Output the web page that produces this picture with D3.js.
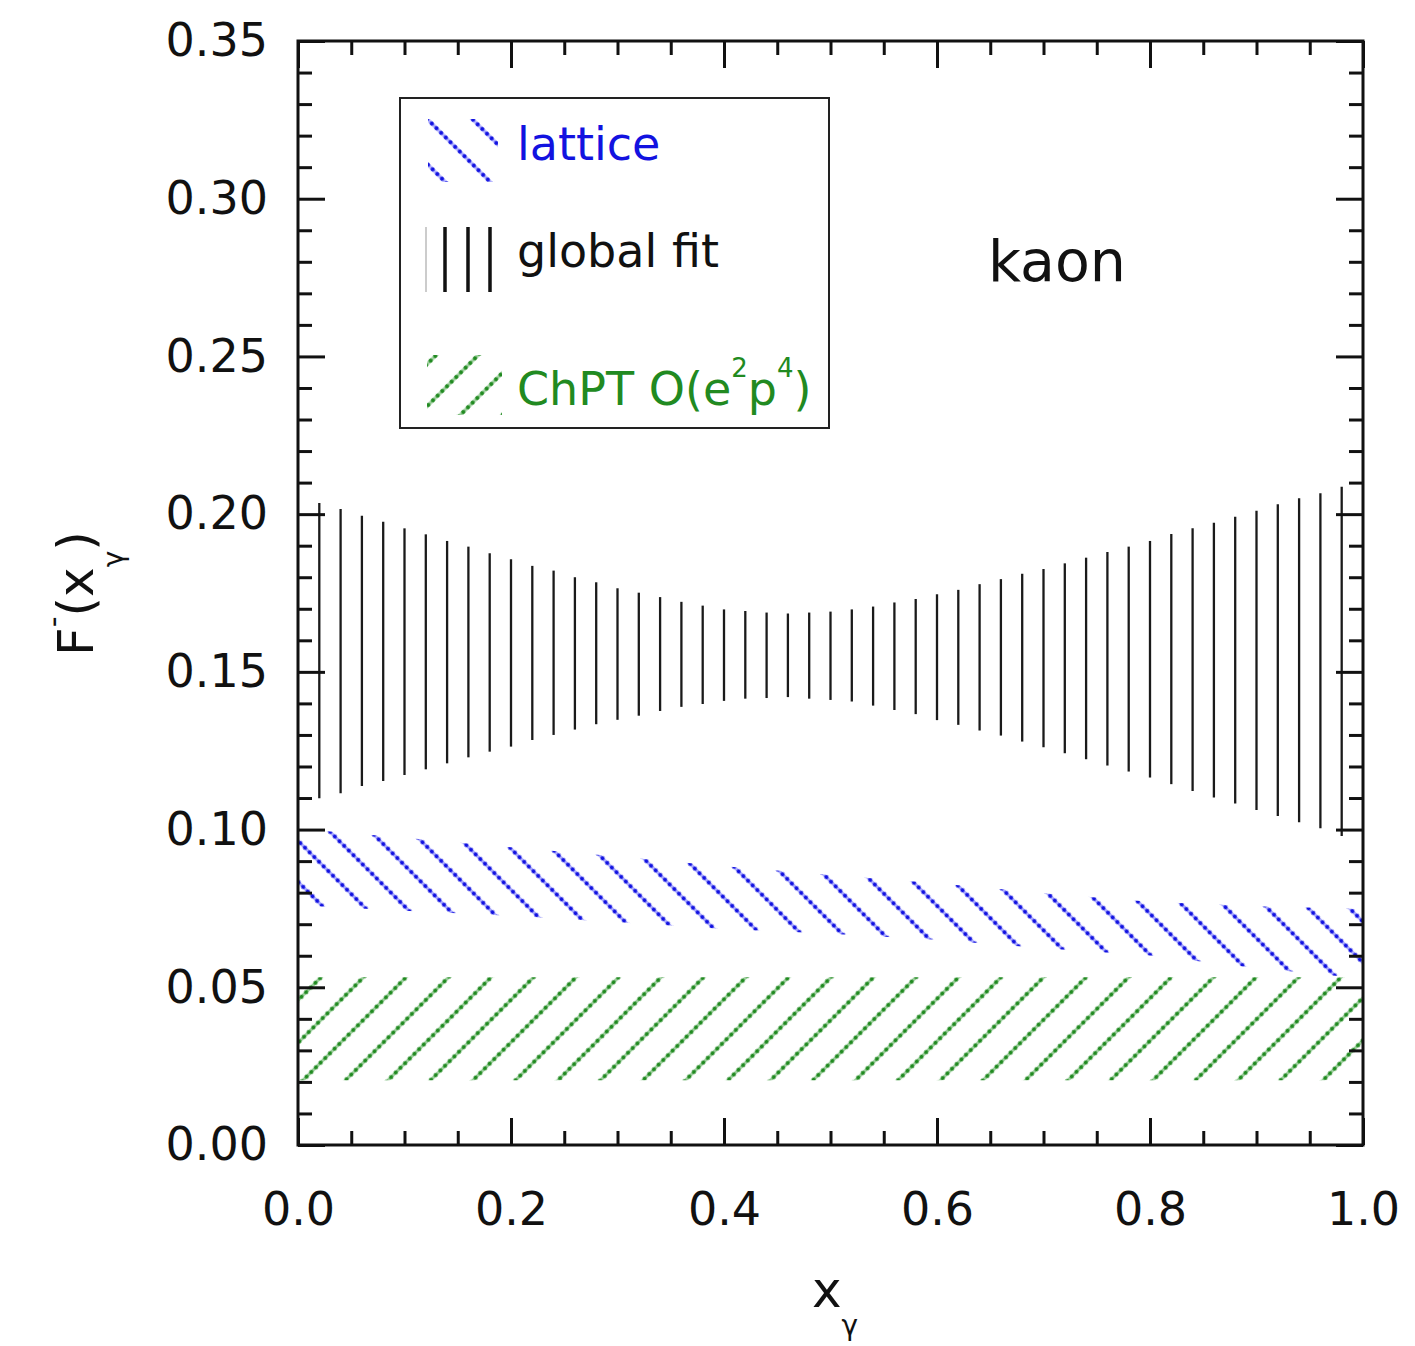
<!DOCTYPE html>
<html>
<head>
<meta charset="utf-8">
<script src="https://cdn.jsdelivr.net/npm/d3@7/dist/d3.min.js"></script>
<style>
  html, body { margin: 0; padding: 0; background: #fff; }
  svg { display: block; }
  text { font-family: "DejaVu Sans", "Noto Sans", sans-serif; }
</style>
</head>
<body>
<script>
// ---- data ---------------------------------------------------------------
// global fit: error band sampled at fixed x_gamma
const fitX = [0.02, 0.04, 0.06, 0.08, 0.10, 0.12, 0.14, 0.16, 0.18, 0.20,
              0.22, 0.24, 0.26, 0.28, 0.30, 0.32, 0.34, 0.36, 0.38, 0.40,
              0.42, 0.44, 0.46, 0.48, 0.50, 0.52, 0.54, 0.56, 0.58, 0.60,
              0.62, 0.64, 0.66, 0.68, 0.70, 0.72, 0.74, 0.76, 0.78, 0.80,
              0.82, 0.84, 0.86, 0.88, 0.90, 0.92, 0.94, 0.96, 0.98];
const fitHigh = [0.2035, 0.2016, 0.1995, 0.1976, 0.1955, 0.1936, 0.1915, 0.1897, 0.1876, 0.1857,
                 0.1836, 0.1821, 0.1800, 0.1784, 0.1765, 0.1751, 0.1737, 0.1722, 0.1710, 0.1698,
                 0.1693, 0.1688, 0.1685, 0.1688, 0.1691, 0.1698, 0.1707, 0.1720, 0.1731, 0.1746,
                 0.1760, 0.1778, 0.1794, 0.1811, 0.1826, 0.1844, 0.1862, 0.1880, 0.1897, 0.1915,
                 0.1937, 0.1955, 0.1973, 0.1992, 0.2011, 0.2031, 0.2050, 0.2066, 0.2087];
const fitLow = [0.1099, 0.1115, 0.1138, 0.1154, 0.1173, 0.1191, 0.1210, 0.1229, 0.1247, 0.1263,
                0.1284, 0.1300, 0.1317, 0.1334, 0.1348, 0.1361, 0.1376, 0.1389, 0.1398, 0.1408,
                0.1415, 0.1417, 0.1420, 0.1415, 0.1411, 0.1406, 0.1393, 0.1379, 0.1366, 0.1347,
                0.1332, 0.1314, 0.1298, 0.1279, 0.1261, 0.1242, 0.1223, 0.1203, 0.1184, 0.1165,
                0.1144, 0.1122, 0.1102, 0.1083, 0.1062, 0.1043, 0.1023, 0.1004, 0.0980];

// lattice band
const latticeX    = [0.0, 0.1, 0.2, 0.3, 0.4, 0.5, 0.6, 0.7, 0.8, 0.9, 1.0];
const latticeHigh = [0.1003, 0.0974, 0.0944, 0.0915, 0.0884, 0.0856, 0.0830, 0.0798, 0.0771, 0.0757, 0.0748];
const latticeLow  = [0.0760, 0.0743, 0.0727, 0.0706, 0.0685, 0.0670, 0.0651, 0.0624, 0.0601, 0.0561, 0.0528];

// ChPT O(e^2 p^4) band
const chptX    = [0.0, 1.0];
const chptHigh = [0.0532, 0.0532];
const chptLow  = [0.0205, 0.0205];

// axis ticks
const xTicks = [0.0, 0.2, 0.4, 0.6, 0.8, 1.0];
const xTickLabels = ["0.0", "0.2", "0.4", "0.6", "0.8", "1.0"];
const yTicks = [0.00, 0.05, 0.10, 0.15, 0.20, 0.25, 0.30, 0.35];
const yTickLabels = ["0.00", "0.05", "0.10", "0.15", "0.20", "0.25", "0.30", "0.35"];

// ---- layout -------------------------------------------------------------
const W = 1415, H = 1346;
const plot = { left: 298, right: 1363, top: 41, bottom: 1145 };
const BLUE = "#1212e0", GREEN = "#218a21", INK = "#111";

const x = d3.scaleLinear().domain([0, 1]).range([plot.left, plot.right]);
const y = d3.scaleLinear().domain([0, 0.35]).range([plot.bottom, plot.top]);

const svg = d3.select("body").append("svg")
  .attr("width", W).attr("height", H).attr("viewBox", `0 0 ${W} ${H}`);
const defs = svg.append("defs");

// dotted 45-degree hatch; c0 fixes the phase of the lines (x -/+ y), spacing is horizontal
function hatch(id, dir, spacing, c0, dot, halo) {
  const w = spacing / Math.SQRT2, h = 6.6;
  let off = (c0 / Math.SQRT2 - w / 2) % w;
  if (off < 0) off += w;
  const p = defs.append("pattern").attr("id", id)
    .attr("patternUnits", "userSpaceOnUse")
    .attr("x", off).attr("y", 0).attr("width", w).attr("height", h)
    .attr("patternTransform", `rotate(${dir === "down" ? -45 : 45})`);
  p.append("rect").attr("x", w / 2 - 1.6).attr("y", 0)
    .attr("width", 3.2).attr("height", h).attr("fill", halo);
  p.append("circle").attr("cx", w / 2).attr("cy", h / 2).attr("r", 2.1).attr("fill", dot);
}
hatch("hatch-lattice", "down", 41, -501.7, BLUE, "rgba(90,90,255,0.5)");
hatch("hatch-chpt", "up", 42.5, 1383.3, GREEN, "rgba(60,160,60,0.5)");
hatch("hatch-lattice-key", "down", 45, 308.3, BLUE, "rgba(90,90,255,0.5)");
hatch("hatch-chpt-key", "up", 42, 833.3, GREEN, "rgba(60,160,60,0.5)");

defs.append("clipPath").attr("id", "plot-clip").append("rect")
  .attr("x", plot.left).attr("y", plot.top)
  .attr("width", plot.right - plot.left).attr("height", plot.bottom - plot.top);

// ---- bands --------------------------------------------------------------
const band = d3.area()
  .x(d => x(d.x)).y0(d => y(d.lo)).y1(d => y(d.hi));

const marks = svg.append("g").attr("clip-path", "url(#plot-clip)");

marks.append("path")
  .datum(chptX.map((v, i) => ({ x: v, lo: chptLow[i], hi: chptHigh[i] })))
  .attr("d", band).attr("fill", "url(#hatch-chpt)");

marks.append("path")
  .datum(latticeX.map((v, i) => ({ x: v, lo: latticeLow[i], hi: latticeHigh[i] })))
  .attr("d", band).attr("fill", "url(#hatch-lattice)");

marks.append("g").selectAll("line")
  .data(fitX.map((v, i) => ({ x: v, lo: fitLow[i], hi: fitHigh[i] })))
  .join("line")
  .attr("x1", d => x(d.x)).attr("x2", d => x(d.x))
  .attr("y1", d => y(d.lo)).attr("y2", d => y(d.hi))
  .attr("stroke", "#1a1a1a").attr("stroke-width", 2.3);

// ---- axes ---------------------------------------------------------------
const xMinor = x.ticks(20).filter(v => !xTicks.some(t => Math.abs(t - v) < 1e-9));
const yMinor = y.ticks(35).filter(v => !yTicks.some(t => Math.abs(t - v) < 1e-9));

function styleAxis(g, fontSize) {
  g.select(".domain").remove();
  g.selectAll(".tick line").attr("stroke", INK).attr("stroke-width", 3);
  g.selectAll("text").attr("fill", INK).attr("font-size", fontSize)
    .attr("font-family", '"DejaVu Sans", sans-serif');
}
const MAJ = 27, MIN = 14;

// bottom
svg.append("g").attr("transform", `translate(0,${plot.bottom})`)
  .call(d3.axisBottom(x).tickValues(xTicks).tickSize(-MAJ).tickPadding(47)
    .tickFormat((d, i) => xTickLabels[i]))
  .call(g => styleAxis(g, 46));
svg.append("g").attr("transform", `translate(0,${plot.bottom})`)
  .call(d3.axisBottom(x).tickValues(xMinor).tickSize(-MIN).tickFormat(""))
  .call(g => styleAxis(g, 0));
// top
svg.append("g").attr("transform", `translate(0,${plot.top})`)
  .call(d3.axisTop(x).tickValues(xTicks).tickSize(-MAJ).tickFormat(""))
  .call(g => styleAxis(g, 0));
svg.append("g").attr("transform", `translate(0,${plot.top})`)
  .call(d3.axisTop(x).tickValues(xMinor).tickSize(-MIN).tickFormat(""))
  .call(g => styleAxis(g, 0));
// left
svg.append("g").attr("transform", `translate(${plot.left},0)`)
  .call(d3.axisLeft(y).tickValues(yTicks).tickSize(-MAJ).tickPadding(30)
    .tickFormat((d, i) => yTickLabels[i]))
  .call(g => styleAxis(g, 46));
svg.append("g").attr("transform", `translate(${plot.left},0)`)
  .call(d3.axisLeft(y).tickValues(yMinor).tickSize(-MIN).tickFormat(""))
  .call(g => styleAxis(g, 0));
// right
svg.append("g").attr("transform", `translate(${plot.right},0)`)
  .call(d3.axisRight(y).tickValues(yTicks).tickSize(-MAJ).tickFormat(""))
  .call(g => styleAxis(g, 0));
svg.append("g").attr("transform", `translate(${plot.right},0)`)
  .call(d3.axisRight(y).tickValues(yMinor).tickSize(-MIN).tickFormat(""))
  .call(g => styleAxis(g, 0));

// frame
svg.append("rect")
  .attr("x", plot.left).attr("y", plot.top)
  .attr("width", plot.right - plot.left).attr("height", plot.bottom - plot.top)
  .attr("fill", "none").attr("stroke", INK).attr("stroke-width", 3);

// ---- axis titles --------------------------------------------------------
const xt = svg.append("text").attr("x", 812).attr("y", 1307)
  .attr("font-size", 50).attr("fill", INK);
xt.append("tspan").text("x");
xt.append("tspan").attr("dy", 28).attr("font-size", 28).text("γ");

const yt = svg.append("text").attr("transform", "translate(93,656) rotate(-90)")
  .attr("font-size", 50).attr("fill", INK);
yt.append("tspan").text("F");
yt.append("tspan").attr("dy", -30).attr("font-size", 30).text("-");
yt.append("tspan").attr("dy", 30).attr("font-size", 50).text("(x");
yt.append("tspan").attr("dy", 30).attr("font-size", 28).text("γ");
yt.append("tspan").attr("dy", -30).attr("font-size", 50).text(")");

// panel label
svg.append("text").attr("x", 988).attr("y", 281)
  .attr("font-size", 57).attr("fill", INK).text("kaon");

// ---- legend -------------------------------------------------------------
const legend = svg.append("g");
legend.append("rect").attr("x", 400).attr("y", 98).attr("width", 429).attr("height", 330)
  .attr("fill", "#fff").attr("stroke", "#222").attr("stroke-width", 2);

legend.append("rect").attr("x", 428).attr("y", 119).attr("width", 70).attr("height", 63)
  .attr("fill", "url(#hatch-lattice-key)");
legend.append("text").attr("x", 517).attr("y", 160).attr("font-size", 46)
  .attr("fill", BLUE).text("lattice");

const keyLines = [
  { x: 426, w: 1, c: "#999" },
  { x: 445, w: 3.5, c: INK },
  { x: 468, w: 3.5, c: INK },
  { x: 490, w: 3.5, c: INK }
];
legend.selectAll("line.key").data(keyLines).join("line").attr("class", "key")
  .attr("x1", d => d.x).attr("x2", d => d.x).attr("y1", 227).attr("y2", 292)
  .attr("stroke", d => d.c).attr("stroke-width", d => d.w);
legend.append("text").attr("x", 517).attr("y", 267).attr("font-size", 46)
  .attr("fill", INK).text("global fit");

legend.append("rect").attr("x", 427).attr("y", 355).attr("width", 75).attr("height", 60)
  .attr("fill", "url(#hatch-chpt-key)");
const ct = legend.append("text").attr("x", 517).attr("y", 405).attr("font-size", 46)
  .attr("fill", GREEN);
ct.append("tspan").text("ChPT O(e");
ct.append("tspan").attr("dy", -28).attr("font-size", 26).text("2");
ct.append("tspan").attr("dy", 28).attr("font-size", 46).text("p");
ct.append("tspan").attr("dy", -28).attr("font-size", 26).text("4");
ct.append("tspan").attr("dy", 28).attr("font-size", 46).text(")");
</script>
</body>
</html>
